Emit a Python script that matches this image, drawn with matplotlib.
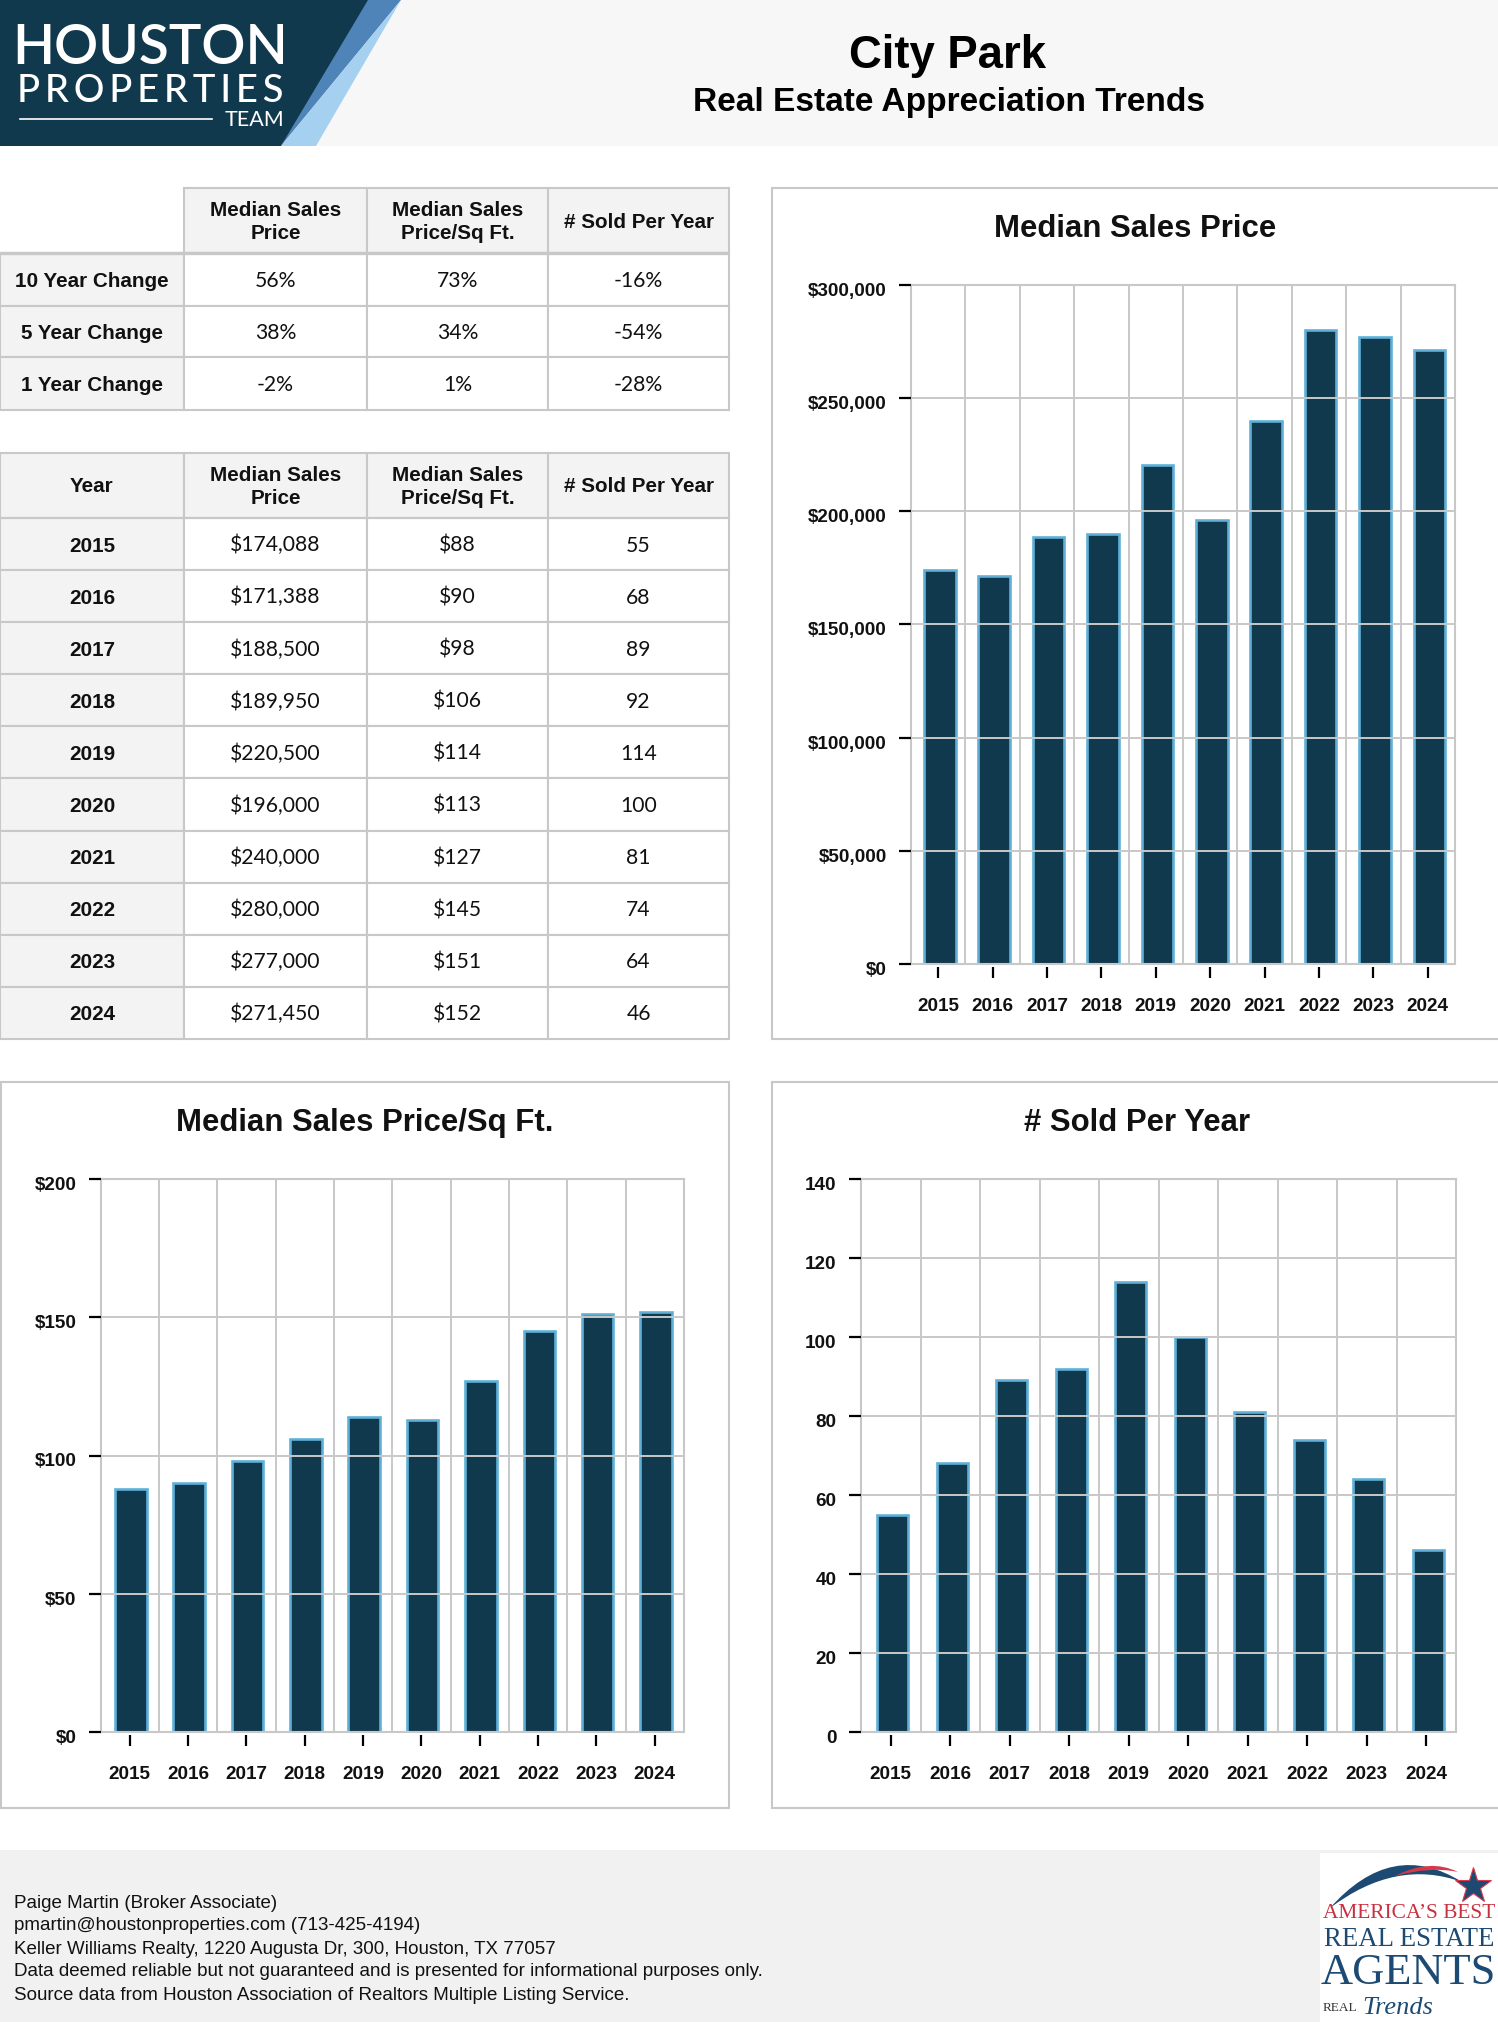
"""City Park appreciation trends report page"""
import matplotlib
matplotlib.use("Agg")
import matplotlib.pyplot as plt
from matplotlib.patches import Polygon, Rectangle, PathPatch
from matplotlib.path import Path
from matplotlib.transforms import ScaledTranslation

YEARS = [2015, 2016, 2017, 2018, 2019, 2020, 2021, 2022, 2023, 2024]
MEDIAN_PRICE = [174088, 171388, 188500, 189950, 220500, 196000, 240000, 280000, 277000, 271450]
PRICE_SQFT = [88, 90, 98, 106, 114, 113, 127, 145, 151, 152]
SOLD = [55, 68, 89, 92, 114, 100, 81, 74, 64, 46]

HEADERS = ["Median Sales\nPrice", "Median Sales\nPrice/Sq Ft.", "# Sold Per Year"]
CHANGE_LABELS = ["10 Year Change", "5 Year Change", "1 Year Change"]
CHANGE_PRICE = ["56%", "38%", "-2%"]
CHANGE_SQFT = ["73%", "34%", "1%"]
CHANGE_SOLD = ["-16%", "-54%", "-28%"]

PRICE_TICKS = [0, 50000, 100000, 150000, 200000, 250000, 300000]
SQFT_TICKS = [0, 50, 100, 150, 200]
SOLD_TICKS = [0, 20, 40, 60, 80, 100, 120, 140]

FOOTER = [
    "Paige Martin (Broker Associate)",
    "pmartin@houstonproperties.com (713-425-4194)",
    "Keller Williams Realty, 1220 Augusta Dr, 300, Houston, TX 77057",
    "Data deemed reliable but not guaranteed and is presented for informational purposes only.",
    "Source data from Houston Association of Realtors Multiple Listing Service.",
]

W, H = 1498, 2022
NAVY = "#11394e"
EDGE = "#5fb0d8"
GRID = "#c8c8c8"
CELL = "#f3f3f3"
SANS = "Liberation Sans"
COLS = [0, 184, 367, 548, 729]


def draw_table(page, ys, first_header, rows, header_lw):
    # ys holds the row edges, rows holds one list of strings per body row
    for i, text in enumerate([first_header] + HEADERS):
        if i == 0 and not first_header:
            continue
        page.add_patch(Rectangle((COLS[i], ys[0]), COLS[i + 1] - COLS[i], ys[1] - ys[0],
                                 fc=CELL, ec=GRID, lw=1.5))
        page.text((COLS[i] + COLS[i + 1]) / 2, (ys[0] + ys[1]) / 2 + 1.5, text, family=SANS,
                  weight="bold", size=14.9, ha="center", va="center", linespacing=1.28,
                  color="#111111")
    for r, row in enumerate(rows):
        top, bottom = ys[r + 1], ys[r + 2]
        for i, text in enumerate(row):
            page.add_patch(Rectangle((COLS[i], top), COLS[i + 1] - COLS[i], bottom - top,
                                     fc=CELL if i == 0 else "white", ec=GRID, lw=1.5))
            page.text((COLS[i] + COLS[i + 1]) / 2, (top + bottom) / 2 + 7.5, text,
                      family=SANS if i == 0 else "Lato", weight="bold" if i == 0 else "normal",
                      size=14.9 if i == 0 else 15.2, ha="center", va="baseline", color="#111111")
    page.plot([0, COLS[-1]], [ys[1], ys[1]], color=GRID, lw=header_lw, solid_capstyle="butt")


def draw_chart(fig, box, values, ticks, fmt, bar_width, bar_shift):
    left, top, right, bottom = box
    ax = fig.add_axes([left / W, 1 - bottom / H, (right - left) / W, (bottom - top) / H])
    ax.bar([i + bar_shift for i in range(len(values))], values, width=bar_width, color=NAVY,
           edgecolor=EDGE, linewidth=1.9)
    ax.set_xlim(-0.5, len(values) - 0.5)
    ax.set_ylim(ticks[0], ticks[-1])
    ax.set_axisbelow(False)
    ax.set_yticks(ticks)
    ax.set_yticklabels([fmt.format(t) for t in ticks], family=SANS, weight="bold", size=13.6,
                       color="#111111")
    ax.set_xticks([i + 0.5 for i in range(len(values) - 1)], minor=True)
    ax.set_xticks([])
    ax.tick_params(axis="y", length=9, width=1.6, color="black", pad=8.5)
    ax.tick_params(axis="x", which="minor", length=0)
    ax.grid(axis="y", color=GRID, lw=1.4)
    ax.grid(axis="x", which="minor", color=GRID, lw=1.4)
    for spine in ax.spines.values():
        spine.set_color(GRID)
        spine.set_linewidth(1.5)
    shift = ScaledTranslation(0, -4.5 / 100, fig.dpi_scale_trans)
    for label in ax.get_yticklabels():
        label.set_transform(label.get_transform() + shift)
    # the year ticks sit a little below the axis line
    sec = ax.secondary_xaxis(-3 / (bottom - top))
    sec.set_xticks(range(len(values)))
    sec.set_xticklabels(YEARS, family=SANS, weight="bold", size=13.6, color="#111111")
    sec.tick_params(length=8, width=1.6, color="black", pad=14)
    sec.spines["bottom"].set_visible(False)
    return ax


def draw_header_logo(page):
    page.add_patch(Rectangle((0, 0), W, 146, fc="#f7f7f7", ec="none"))
    page.add_patch(Polygon([(281, 146), (401, 0), (355, 0)], fc="#4f84b8", ec="none"))
    page.add_patch(Polygon([(281, 146), (401, 0), (316, 146)], fc="#a5d0f0", ec="none"))
    page.add_patch(Polygon([(0, 0), (368, 0), (281, 146), (0, 146)], fc=NAVY, ec="none"))
    page.text(150, 48, "HOUSTON", family="Lato", size=39.5, color="white", ha="center", va="center",
              weight="semibold")
    page.text(150, 91, "P\u2009R\u2009O\u2009P\u2009E\u2009R\u2009T\u2009I\u2009E\u2009S", family="Lato",
              size=27.5, color="white", ha="center", va="center", weight="medium")
    page.text(284, 120, "TEAM", family="Lato", size=15.5, color="white", ha="right", va="center")
    page.plot([20, 212], [119, 119], color="white", lw=1.2)


def draw_footer_logo(page):
    page.add_patch(Rectangle((1320, 1853), 178, 169, fc="white", ec="none"))
    swoosh = Path([(1330, 1908), (1392, 1838), (1462, 1882), (1396, 1858), (1330, 1908)],
                  [Path.MOVETO, Path.CURVE3, Path.CURVE3, Path.CURVE3, Path.CURVE3])
    page.add_patch(PathPatch(swoosh, fc="#1c4a72", ec="none"))
    red = Path([(1395, 1876), (1430, 1858), (1458, 1872), (1430, 1866), (1395, 1876)],
               [Path.MOVETO, Path.CURVE3, Path.CURVE3, Path.CURVE3, Path.CURVE3])
    page.add_patch(PathPatch(red, fc="#d8394a", ec="none"))
    page.plot([1473], [1886], marker="*", ms=27, mfc="#1c4a72", mec="#d8394a", mew=0.8)
    page.text(1409, 1914, "AMERICA\u2019S BEST", family="Liberation Serif", size=15.4, color="#c9303f",
              ha="center", va="center")
    page.text(1409, 1939, "REAL ESTATE", family="Liberation Serif", size=19.4, color="#1c4a72",
              ha="center", va="center")
    page.text(1408, 1973, "AGENTS", family="Liberation Serif", size=32, color="#1c4a72",
              ha="center", va="center")
    page.text(1323, 2008, "REAL", family="Liberation Serif", size=9.5, color="#333333", va="center")
    page.text(1362, 2008, "Trends", family="Liberation Serif", style="italic", size=19, color="#1c4a72",
              va="center")


fig = plt.figure(figsize=(W / 100, H / 100), dpi=100, facecolor="white")
page = fig.add_axes([0, 0, 1, 1])
page.set_xlim(0, W)
page.set_ylim(H, 0)
page.axis("off")

draw_header_logo(page)
page.text(947.5, 56, "City Park", family=SANS, weight="bold", size=32.8, color="black",
          ha="center", va="center")
page.text(949, 102, "Real Estate Appreciation Trends", family=SANS, weight="bold", size=24.1,
          color="black", ha="center", va="center")

change_rows = [list(r) for r in zip(CHANGE_LABELS, CHANGE_PRICE, CHANGE_SQFT, CHANGE_SOLD)]
draw_table(page, [188, 253, 305.5, 357, 410], "", change_rows, 2.4)

year_rows = [[str(y), f"${p:,}", f"${s}", str(n)]
             for y, p, s, n in zip(YEARS, MEDIAN_PRICE, PRICE_SQFT, SOLD)]
year_edges = [452.5, 518] + [570 + 52.1 * i for i in range(10)]
draw_table(page, year_edges, "Year", year_rows, 1.5)

# panels behind the three charts, the right pair runs off the page edge
for left, top, right, bottom in [(772, 188, W + 5, 1039), (1, 1082, 729, 1808), (772, 1082, W + 5, 1808)]:
    page.add_patch(Rectangle((left, top), right - left, bottom - top, fc="white", ec=GRID, lw=1.5))

page.text(1135, 229, "Median Sales Price", family=SANS, weight="bold", size=22.4, color="#111111",
          ha="center", va="center")
page.text(365, 1123, "Median Sales Price/Sq Ft.", family=SANS, weight="bold", size=22.4, color="#111111",
          ha="center", va="center")
page.text(1137, 1123, "# Sold Per Year", family=SANS, weight="bold", size=22.4, color="#111111",
          ha="center", va="center")

draw_chart(fig, (911, 285, 1455, 964), MEDIAN_PRICE, PRICE_TICKS, "${:,}", 0.58, 0.03)
draw_chart(fig, (100.5, 1179, 684, 1732), PRICE_SQFT, SQFT_TICKS, "${}", 0.54, 0.02)
draw_chart(fig, (861, 1179, 1456, 1732), SOLD, SOLD_TICKS, "{}", 0.52, 0.03)

page.add_patch(Rectangle((0, 1850), W, 172, fc="#f1f1f1", ec="none"))
for line, y in zip(FOOTER, [1903, 1926, 1949, 1972, 1995]):
    page.text(14.5, y, line, family=SANS, size=13.48, color="#111111", va="center")
draw_footer_logo(page)

fig.savefig("out.png", dpi=100)
